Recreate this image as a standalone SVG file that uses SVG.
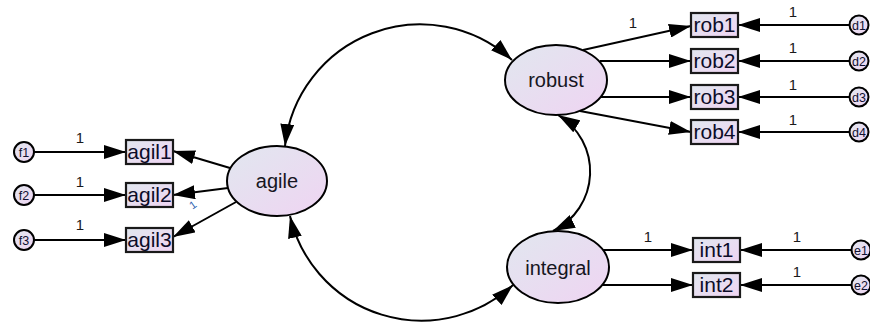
<svg xmlns="http://www.w3.org/2000/svg" width="870" height="325" viewBox="0 0 870 325">
  <defs>
    <linearGradient id="fillGrad" x1="0" y1="0" x2="1" y2="1">
      <stop offset="0" stop-color="#e1e7ef"/>
      <stop offset="1" stop-color="#efd4f2"/>
    </linearGradient>
    <marker id="head" viewBox="0 0 22 14" refX="22" refY="7" markerWidth="22" markerHeight="14" markerUnits="userSpaceOnUse" orient="auto-start-reverse">
      <path d="M0,0 L22,7 L0,14 Z" fill="#000"/>
    </marker>
    <style>
      .lat ellipse { fill: url(#fillGrad); stroke: #000; stroke-width: 2; }
      .lat text { font: 20px "Liberation Sans", Arial, sans-serif; fill: #161622; text-anchor: middle; }
      .obs rect { fill: url(#fillGrad); stroke: #1a1a1a; stroke-width: 2.2; }
      .obs text { font: 21px "Liberation Sans", Arial, sans-serif; fill: #0c0c28; text-anchor: middle; }
      .err circle { fill: url(#fillGrad); stroke: #000; stroke-width: 2; }
      .err text { font: 12.5px "Liberation Sans", Arial, sans-serif; fill: #101030; text-anchor: middle; }
      .conn line, .conn path { stroke: #000; stroke-width: 2; fill: none; }
      .arr { marker-end: url(#head); }
      .dbl { marker-start: url(#head); marker-end: url(#head); }
      .w { font: 15px "Liberation Sans", Arial, sans-serif; fill: #1a1a1a; text-anchor: middle; }
      .wsmall { font: 11px "Liberation Sans", Arial, sans-serif; fill: #2f63b0; text-anchor: middle; }
    </style>
  </defs>

  <rect width="870" height="325" fill="#fff"/>

  <!-- connectors: regression paths, error paths, covariances -->
  <g id="connectors" class="conn">
    <!-- covariances -->
    <path class="dbl" d="M285,146 A136,136 0 0 1 512,60"/>
    <path class="dbl" d="M290,216 A135,135 0 0 0 513,285"/>
    <path class="dbl" d="M558,115 A66,66 0 0 1 553,231"/>

    <!-- agile indicators -->
    <line class="arr" x1="230" y1="168" x2="173" y2="151"/>
    <line class="arr" x1="228" y1="188" x2="173" y2="195"/>
    <line class="arr" x1="236" y1="202" x2="173" y2="237"/>
    <line class="arr" x1="34" y1="152" x2="126" y2="152"/>
    <line class="arr" x1="34" y1="195" x2="126" y2="195"/>
    <line class="arr" x1="34" y1="240" x2="126" y2="240"/>

    <!-- robust indicators -->
    <line class="arr" x1="583" y1="50" x2="691" y2="26"/>
    <line class="arr" x1="600" y1="61" x2="691" y2="61"/>
    <line class="arr" x1="601" y1="97" x2="691" y2="97"/>
    <line class="arr" x1="580" y1="111" x2="691" y2="132"/>
    <line class="arr" x1="849" y1="25" x2="738" y2="25"/>
    <line class="arr" x1="849" y1="61" x2="738" y2="61"/>
    <line class="arr" x1="849" y1="97" x2="738" y2="97"/>
    <line class="arr" x1="849" y1="132" x2="738" y2="132"/>

    <!-- integral indicators -->
    <line class="arr" x1="603" y1="250" x2="693" y2="250"/>
    <line class="arr" x1="602" y1="285" x2="693" y2="285"/>
    <line class="arr" x1="851" y1="250" x2="740" y2="250"/>
    <line class="arr" x1="851" y1="285" x2="740" y2="285"/>

    <!-- fixed weights -->
    <text class="w" x="80" y="143">1</text>
    <text class="w" x="80" y="187">1</text>
    <text class="w" x="80" y="230">1</text>
    <text class="wsmall" transform="translate(195,208) rotate(-35)">1</text>
    <text class="w" x="633" y="28">1</text>
    <text class="w" x="793" y="17">1</text>
    <text class="w" x="793" y="53">1</text>
    <text class="w" x="793" y="90">1</text>
    <text class="w" x="793" y="125">1</text>
    <text class="w" x="648" y="242">1</text>
    <text class="w" x="797" y="242">1</text>
    <text class="w" x="797" y="277">1</text>
  </g>

  <!-- latent variables -->
  <g id="agile" class="lat">
    <ellipse cx="277" cy="181" rx="50" ry="35"/>
    <text x="277" y="188">agile</text>
  </g>
  <g id="robust" class="lat">
    <ellipse cx="556" cy="80" rx="51" ry="35"/>
    <text x="556" y="87">robust</text>
  </g>
  <g id="integral" class="lat">
    <ellipse cx="558" cy="267" rx="51" ry="36"/>
    <text x="558" y="275">integral</text>
  </g>

  <!-- observed variables -->
  <g id="agil1" class="obs"><rect x="126" y="140" width="47" height="24"/><text x="149.5" y="159">agil1</text></g>
  <g id="agil2" class="obs"><rect x="126" y="183" width="47" height="24"/><text x="149.5" y="202">agil2</text></g>
  <g id="agil3" class="obs"><rect x="126" y="228" width="47" height="24"/><text x="149.5" y="247">agil3</text></g>
  <g id="rob1" class="obs"><rect x="691" y="13" width="47" height="24"/><text x="714.5" y="32">rob1</text></g>
  <g id="rob2" class="obs"><rect x="691" y="49" width="47" height="24"/><text x="714.5" y="68">rob2</text></g>
  <g id="rob3" class="obs"><rect x="691" y="85" width="47" height="24"/><text x="714.5" y="104">rob3</text></g>
  <g id="rob4" class="obs"><rect x="691" y="120" width="47" height="24"/><text x="714.5" y="139">rob4</text></g>
  <g id="int1" class="obs"><rect x="693" y="238" width="47" height="24"/><text x="716.5" y="257">int1</text></g>
  <g id="int2" class="obs"><rect x="693" y="273" width="47" height="24"/><text x="716.5" y="292">int2</text></g>

  <!-- error terms -->
  <g id="f1" class="err"><circle cx="24" cy="152" r="10"/><text x="24" y="156.5">f1</text></g>
  <g id="f2" class="err"><circle cx="24" cy="195" r="10"/><text x="24" y="199.5">f2</text></g>
  <g id="f3" class="err"><circle cx="24" cy="240" r="10"/><text x="24" y="244.5">f3</text></g>
  <g id="d1" class="err"><circle cx="859" cy="25" r="9.5"/><text x="859" y="29.5">d1</text></g>
  <g id="d2" class="err"><circle cx="859" cy="61" r="9.5"/><text x="859" y="65.5">d2</text></g>
  <g id="d3" class="err"><circle cx="859" cy="97" r="9.5"/><text x="859" y="101.5">d3</text></g>
  <g id="d4" class="err"><circle cx="859" cy="132" r="9.5"/><text x="859" y="136.5">d4</text></g>
  <g id="e1" class="err"><circle cx="861" cy="250" r="9.5"/><text x="861" y="254.5">e1</text></g>
  <g id="e2" class="err"><circle cx="861" cy="285" r="9.5"/><text x="861" y="289.5">e2</text></g>
</svg>
